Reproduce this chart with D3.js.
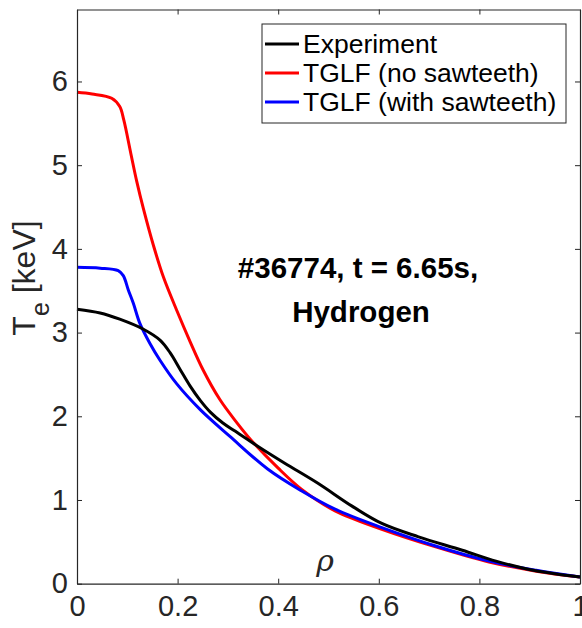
<!DOCTYPE html>
<html>
<head>
<meta charset="utf-8">
<script src="https://cdn.jsdelivr.net/npm/d3@7"></script>
<style>
  html, body { margin: 0; padding: 0; background: #fff; }
  svg { display: block; font-family: "Liberation Sans", Arial, Helvetica, sans-serif; }
</style>
</head>
<body>
<svg id="chart" width="582" height="628"></svg>
<script>
// Electron temperature profiles vs normalized radius rho
const seriesNames = ["Experiment", "TGLF (no sawteeth)", "TGLF (with sawteeth)"];
const seriesColors = ["#000000", "#ff0000", "#0000ff"];

const expRho = [0, 0.046, 0.085, 0.132, 0.165, 0.185, 0.205, 0.225, 0.245, 0.265, 0.29, 0.315, 0.34, 0.36, 0.413, 0.479, 0.546, 0.606, 0.679, 0.766, 0.833, 0.899, 0.95, 1.0];
const expTe  = [3.28, 3.235, 3.16, 3.04, 2.91, 2.76, 2.56, 2.36, 2.19, 2.05, 1.92, 1.82, 1.72, 1.64, 1.44, 1.20, 0.93, 0.72, 0.56, 0.40, 0.27, 0.17, 0.12, 0.08];

const noSawRho = [0, 0.03, 0.069, 0.085, 0.093, 0.107, 0.119, 0.132, 0.152, 0.172, 0.198, 0.225, 0.251, 0.284, 0.317, 0.344, 0.40, 0.446, 0.513, 0.606, 0.713, 0.819, 0.913, 1.0];
const noSawTe  = [5.87, 5.85, 5.80, 5.70, 5.54, 5.14, 4.80, 4.48, 4.04, 3.66, 3.27, 2.89, 2.55, 2.20, 1.93, 1.73, 1.38, 1.13, 0.87, 0.65, 0.44, 0.26, 0.15, 0.08];

const sawRho = [0, 0.046, 0.082, 0.092, 0.102, 0.112, 0.125, 0.145, 0.165, 0.198, 0.245, 0.304, 0.379, 0.446, 0.513, 0.606, 0.713, 0.819, 0.913, 1.0];
const sawTe  = [3.78, 3.77, 3.74, 3.68, 3.51, 3.35, 3.11, 2.87, 2.67, 2.39, 2.08, 1.76, 1.37, 1.11, 0.89, 0.67, 0.45, 0.27, 0.16, 0.08];

const xTicks = [0, 0.2, 0.4, 0.6, 0.8, 1];
const xTickLabels = ["0", "0.2", "0.4", "0.6", "0.8", "1"];
const yTicks = [0, 1, 2, 3, 4, 5, 6];

const W = 582, H = 628;
const margin = { left: 77, right: 2, top: 9.5, bottom: 44.3 };
const axisColor = "#262626";

const svg = d3.select("#chart");
const x = d3.scaleLinear().domain([0, 1]).range([margin.left, W - margin.right]);
const y = d3.scaleLinear().domain([0, 6.86]).range([H - margin.bottom, margin.top]);

const series = [
  { name: seriesNames[0], color: seriesColors[0], pts: expRho.map((r, i) => [r, expTe[i]]) },
  { name: seriesNames[1], color: seriesColors[1], pts: noSawRho.map((r, i) => [r, noSawTe[i]]) },
  { name: seriesNames[2], color: seriesColors[2], pts: sawRho.map((r, i) => [r, sawTe[i]]) }
];

// Curves (red, then blue, then black on top)
const line = d3.line().x(d => x(d[0])).y(d => y(d[1])).curve(d3.curveCatmullRom.alpha(0.5));
const g = svg.append("g");
[series[1], series[2], series[0]].forEach(s => {
  g.append("path")
    .attr("d", line(s.pts))
    .attr("fill", "none")
    .attr("stroke", s.color)
    .attr("stroke-width", 3)
    .attr("stroke-linejoin", "round");
});

// Axes with inward ticks on all four sides
const tickLen = 5;
const axisB = d3.axisBottom(x).tickValues(xTicks).tickFormat((d, i) => xTickLabels[i]).tickSizeInner(-tickLen).tickSizeOuter(0).tickPadding(12);
const axisL = d3.axisLeft(y).tickValues(yTicks).tickFormat(d3.format("d")).tickSizeInner(-tickLen).tickSizeOuter(0).tickPadding(9);
const axisT = d3.axisTop(x).tickValues(xTicks).tickFormat("").tickSizeInner(-tickLen).tickSizeOuter(0);
const axisR = d3.axisRight(y).tickValues(yTicks).tickFormat("").tickSizeInner(-tickLen).tickSizeOuter(0);

function styleAxis(sel) {
  sel.select(".domain").attr("stroke", axisColor).attr("stroke-width", 1.2);
  sel.selectAll(".tick line").attr("stroke", axisColor).attr("stroke-width", 1);
  sel.selectAll(".tick text").attr("fill", axisColor).attr("font-size", 29)
     .attr("font-family", "'Liberation Sans', Arial, sans-serif");
}
svg.append("g").attr("transform", `translate(0,${H - margin.bottom})`).call(axisB).call(styleAxis)
  .selectAll(".tick text").attr("dy", "0.71em");
svg.append("g").attr("transform", `translate(${margin.left},0)`).call(axisL).call(styleAxis);
svg.append("g").attr("transform", `translate(0,${margin.top})`).call(axisT).call(styleAxis);
svg.append("g").attr("transform", `translate(${W - margin.right},0)`).call(axisR).call(styleAxis);

// Y-axis label T_e [keV]
const yl = svg.append("text")
  .attr("transform", `translate(35,278) rotate(-90)`)
  .attr("text-anchor", "middle")
  .attr("fill", axisColor)
  .attr("font-size", 32);
yl.append("tspan").text("T");
yl.append("tspan").attr("font-size", 25).attr("dy", 14).text("e");
yl.append("tspan").attr("dy", -14).text(" [keV]");

// X-axis label rho
svg.append("text")
  .attr("x", x(0.493))
  .attr("y", 571)
  .attr("text-anchor", "middle")
  .attr("fill", axisColor)
  .attr("font-size", 30)
  .attr("font-style", "italic")
  .attr("font-family", "'DejaVu Serif', serif")
  .text("ρ");

// Annotation
const ann = svg.append("text")
  .attr("text-anchor", "middle")
  .attr("font-weight", "bold")
  .attr("font-size", 29.5)
  .attr("fill", "#000");
ann.append("tspan").attr("x", 358).attr("y", 278).text("#36774, t = 6.65s,");
ann.append("tspan").attr("x", 361).attr("y", 322).text("Hydrogen");

// Legend
const lg = svg.append("g");
lg.append("rect")
  .attr("x", 262).attr("y", 24).attr("width", 304).attr("height", 99)
  .attr("fill", "#fff").attr("stroke", axisColor).attr("stroke-width", 1);
series.forEach((s, i) => {
  const cy = 44 + i * 29;
  lg.append("line").attr("x1", 265).attr("x2", 299).attr("y1", cy).attr("y2", cy)
    .attr("stroke", s.color).attr("stroke-width", 3);
  lg.append("text").attr("x", 303).attr("y", cy).attr("dy", "0.35em")
    .attr("font-size", 26.5).attr("fill", "#000").text(s.name);
});
</script>
</body>
</html>
